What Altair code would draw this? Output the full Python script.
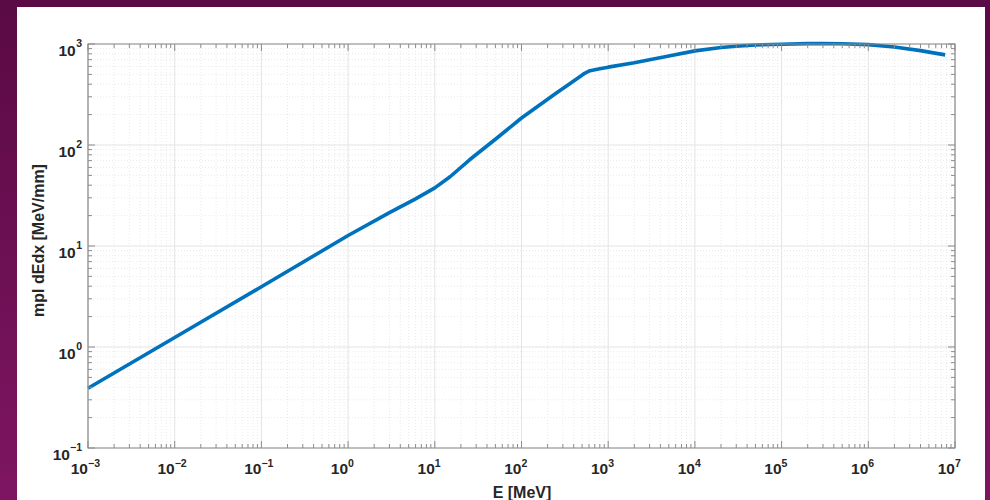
import altair as alt
import pandas as pd

# ---- data ----
energy = [1e-3, 1e-2, 1e-1, 1, 3, 6, 10, 15, 25, 50, 100, 250, 400, 541, 616, 800,
          1000, 2000, 5000, 1e4, 2e4, 3e4, 5e4, 1e5, 2e5, 3e5, 5e5, 1e6, 2e6, 4e6, 7.7e6]
dedx = [0.39, 1.24, 3.95, 12.7, 21.4, 29.3, 37.6, 48.5, 71, 114, 185, 325, 431, 516, 544, 568,
        590, 652, 762, 855, 925, 950, 978, 995, 1008, 1012, 1005, 985, 935, 860, 780]

x_decades = [1e-3, 1e-2, 1e-1, 1e0, 1e1, 1e2, 1e3, 1e4, 1e5, 1e6, 1e7]
x_exponents = ["−3", "−2", "−1", "0", "1", "2", "3", "4", "5", "6", "7"]
y_decades = [1e-1, 1e0, 1e1, 1e2, 1e3]
y_exponents = ["−1", "0", "1", "2", "3"]
minor_mult = [2, 3, 4, 5, 6, 7, 8, 9]

x_minor = [m * d for d in x_decades[:-1] for m in minor_mult]
y_minor = [m * d for d in y_decades[:-1] for m in minor_mult]

W, H = 867, 404
LEFT, TOP = 88, 44
FONT = "Liberation Sans"
TXT = "#262626"
AX = "#8c8c8c"
BASE_FS, EXP_FS = 15.5, 10.5

xs = alt.Scale(type="log", domain=[1e-3, 1e7])
ys = alt.Scale(type="log", domain=[0.1, 1000])

line_df = pd.DataFrame({"E": energy, "v": dedx})
xmaj_df = pd.DataFrame({"v": x_decades})
xmin_df = pd.DataFrame({"v": x_minor})
ymaj_df = pd.DataFrame({"v": y_decades})
ymin_df = pd.DataFrame({"v": y_minor})
xlab_df = pd.DataFrame({"v": x_decades, "e": x_exponents})
ylab_df = pd.DataFrame({"v": y_decades, "e": y_exponents})
one = pd.DataFrame({"a": [0]})

# backgrounds
bg = alt.Chart(one).mark_rect(
    fill=alt.LinearGradient(gradient="linear", x1=0, y1=0, x2=0, y2=1,
                            stops=[alt.GradientStop(color="#5a0a44", offset=0),
                                   alt.GradientStop(color="#7e1562", offset=1)]),
    clip=False,
).encode(x=alt.value(-LEFT), x2=alt.value(990 - LEFT), y=alt.value(-TOP), y2=alt.value(500 - TOP))

panel = alt.Chart(one).mark_rect(fill="white", clip=False).encode(
    x=alt.value(17 - LEFT), x2=alt.value(985 - LEFT), y=alt.value(7 - TOP), y2=alt.value(500 - TOP)
)

# grid
gx_min = alt.Chart(xmin_df).mark_rule(color="#eaeaea", strokeWidth=1, strokeDash=[1, 2]).encode(
    x=alt.X("v:Q", scale=xs), y=alt.datum(0.1), y2=alt.datum(1000))
gy_min = alt.Chart(ymin_df).mark_rule(color="#eaeaea", strokeWidth=1, strokeDash=[1, 2]).encode(
    y=alt.Y("v:Q", scale=ys), x=alt.datum(1e-3), x2=alt.datum(1e7))
gx_maj = alt.Chart(xmaj_df).mark_rule(color="#e4e4e4", strokeWidth=1).encode(
    x=alt.X("v:Q", scale=xs), y=alt.datum(0.1), y2=alt.datum(1000))
gy_maj = alt.Chart(ymaj_df).mark_rule(color="#e4e4e4", strokeWidth=1).encode(
    y=alt.Y("v:Q", scale=ys), x=alt.datum(1e-3), x2=alt.datum(1e7))

# data line; axes carry only titles (labels drawn as base + superscript text)
line = alt.Chart(line_df).mark_line(color="#0072BD", strokeWidth=3.6, interpolate="linear",
                                    strokeJoin="round", clip=False).encode(
    x=alt.X("E:Q", scale=xs, axis=alt.Axis(
        values=x_decades, ticks=False, domain=False, grid=False, labels=False, zindex=2,
        title="E [MeV]", titleFont=FONT, titleFontSize=16, titleFontWeight="bold", titleColor=TXT,
        titleBaseline="alphabetic", titleY=49)),
    y=alt.Y("v:Q", scale=ys, axis=alt.Axis(
        values=y_decades, ticks=False, domain=False, grid=False, labels=False, zindex=2,
        title="mpl dEdx [MeV/mm]", titleFont=FONT, titleFontSize=16, titleFontWeight="bold", titleColor=TXT,
        titleBaseline="middle", titleX=-50, titleY=196)),
)

# x tick labels: "10" + superscript exponent, centred under the tick
xl = alt.Chart(xlab_df).transform_calculate(off="(17 - 5.8*length(datum.e))/2")
x_base = xl.mark_text(text="10", font=FONT, fontSize=BASE_FS, fontWeight="bold", color=TXT,
                      align="right", baseline="alphabetic").encode(
    x=alt.X("v:Q", scale=xs), xOffset=alt.XOffset("off:Q", scale=None), y=alt.value(H + 26))
x_exp = xl.mark_text(font=FONT, fontSize=EXP_FS, fontWeight="bold", color=TXT,
                     align="left", baseline="alphabetic").encode(
    x=alt.X("v:Q", scale=xs), xOffset=alt.XOffset("off:Q", scale=None), y=alt.value(H + 19),
    text="e:N")

# y tick labels: right-aligned left of the axis
yl = alt.Chart(ylab_df).transform_calculate(bx="-6.5 - 5.8*length(datum.e)")
y_base = yl.mark_text(text="10", font=FONT, fontSize=BASE_FS, fontWeight="bold", color=TXT,
                      align="right", baseline="alphabetic", dy=12).encode(
    y=alt.Y("v:Q", scale=ys), x=alt.X("bx:Q", scale=None))
y_exp = yl.mark_text(font=FONT, fontSize=EXP_FS, fontWeight="bold", color=TXT,
                     align="right", baseline="alphabetic", dy=3).encode(
    y=alt.Y("v:Q", scale=ys), x=alt.value(-6), text="e:N")

# inward ticks (major 7px, minor 4px) on all four sides
def xticks(df, ln):
    b = alt.Chart(df).mark_rule(color=AX, strokeWidth=1).encode(
        x=alt.X("v:Q", scale=xs), y=alt.value(H), y2=alt.value(H - ln))
    t = alt.Chart(df).mark_rule(color=AX, strokeWidth=1).encode(
        x=alt.X("v:Q", scale=xs), y=alt.value(0), y2=alt.value(ln))
    return [b, t]

def yticks(df, ln):
    l = alt.Chart(df).mark_rule(color=AX, strokeWidth=1).encode(
        y=alt.Y("v:Q", scale=ys), x=alt.value(0), x2=alt.value(ln))
    r = alt.Chart(df).mark_rule(color=AX, strokeWidth=1).encode(
        y=alt.Y("v:Q", scale=ys), x=alt.value(W), x2=alt.value(W - ln))
    return [l, r]

ticks = xticks(xmaj_df, 7) + xticks(xmin_df, 4) + yticks(ymaj_df, 7) + yticks(ymin_df, 4)

frame = alt.Chart(one).mark_rect(fill="white", fillOpacity=0, stroke=AX, strokeWidth=1.2).encode(
    x=alt.datum(1e-3), x2=alt.datum(1e7), y=alt.datum(0.1), y2=alt.datum(1000))

chart = alt.layer(bg, panel, gx_min, gy_min, gx_maj, gy_maj, line, *ticks, frame,
                  x_base, x_exp, y_base, y_exp).properties(
    width=W, height=H,
    autosize=alt.AutoSizeParams(type="none"),
    padding={"left": LEFT, "top": TOP, "right": 990 - LEFT - W, "bottom": 500 - TOP - H},
    background="#6a0f52",
).configure_view(stroke=None)

chart.save("out.html", embed_options={"renderer": "svg", "actions": False})
